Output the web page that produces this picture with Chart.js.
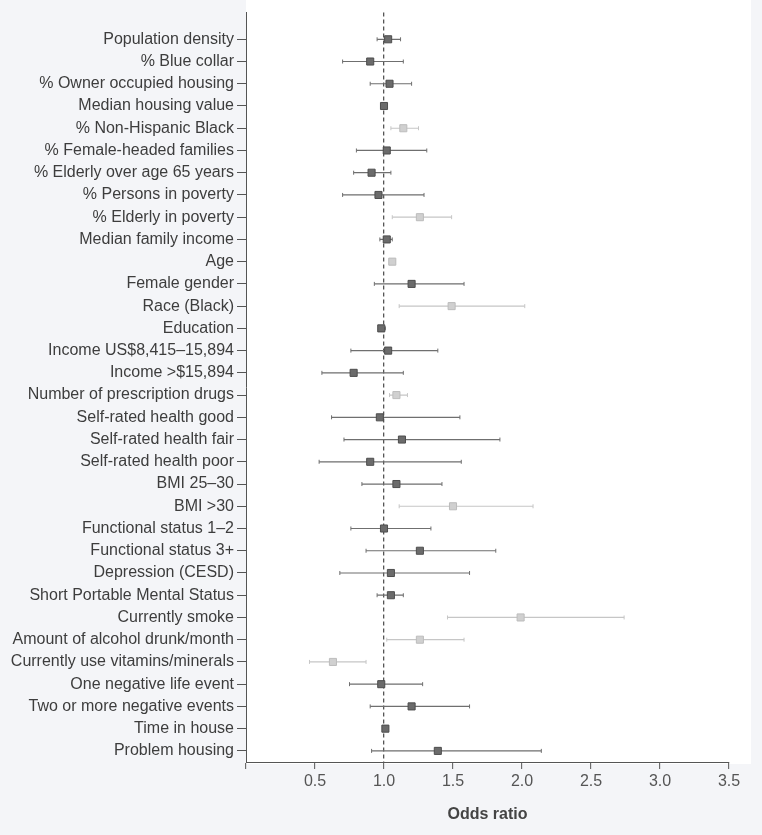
<!DOCTYPE html>
<html>
<head>
<meta charset="utf-8">
<script src="https://cdn.jsdelivr.net/npm/chart.js@4/dist/chart.umd.min.js"></script>
<style>
  html, body { margin: 0; padding: 0; background: #f4f5f8; }
  #wrap { width: 762px; height: 835px; }
</style>
</head>
<body>
<div id="wrap"><canvas id="c" width="762" height="835"></canvas></div>
<script>
const categories = [
  "Population density",
  "% Blue collar",
  "% Owner occupied housing",
  "Median housing value",
  "% Non-Hispanic Black",
  "% Female-headed families",
  "% Elderly over age 65 years",
  "% Persons in poverty",
  "% Elderly in poverty",
  "Median family income",
  "Age",
  "Female gender",
  "Race (Black)",
  "Education",
  "Income US$8,415\u201315,894",
  "Income >$15,894",
  "Number of prescription drugs",
  "Self-rated health good",
  "Self-rated health fair",
  "Self-rated health poor",
  "BMI 25\u201330",
  "BMI >30",
  "Functional status 1\u20132",
  "Functional status 3+",
  "Depression (CESD)",
  "Short Portable Mental Status",
  "Currently smoke",
  "Amount of alcohol drunk/month",
  "Currently use vitamins/minerals",
  "One negative life event",
  "Two or more negative events",
  "Time in house",
  "Problem housing"
];
const oddsRatio = [1.03, 0.90, 1.04, 1.00, 1.14, 1.02, 0.91, 0.96, 1.26, 1.02, 1.06, 1.20, 1.49, 0.98, 1.03, 0.78, 1.09,
  0.97, 1.13, 0.90, 1.09, 1.50, 1.00, 1.26, 1.05, 1.05, 1.99, 1.26, 0.63, 0.98, 1.20, 1.01, 1.39];
const ciLower = [0.95, 0.70, 0.90, 0.98, 1.05, 0.80, 0.78, 0.70, 1.06, 0.97, 1.04, 0.93, 1.11, 0.96, 0.76, 0.55, 1.04,
  0.62, 0.71, 0.53, 0.84, 1.11, 0.76, 0.87, 0.68, 0.95, 1.46, 1.02, 0.46, 0.75, 0.90, 1.00, 0.91];
const ciUpper = [1.12, 1.14, 1.20, 1.01, 1.25, 1.31, 1.05, 1.29, 1.49, 1.06, 1.08, 1.58, 2.02, 1.01, 1.39, 1.14, 1.17,
  1.55, 1.84, 1.56, 1.42, 2.08, 1.34, 1.81, 1.62, 1.14, 2.74, 1.58, 0.87, 1.28, 1.62, 1.02, 2.14];
// 1 = drawn in light grey in the original
const lightGrey = [0,0,0,0,1,0,0,0,1,0,1,0,1,0,0,0,1,0,0,0,0,1,0,0,0,0,1,1,1,0,0,0,0];
const xTickValues = [0, 0.5, 1.0, 1.5, 2.0, 2.5, 3.0, 3.5];
const xTitle = "Odds ratio";

const DARK_LINE = '#6f6f6f', DARK_FILL = '#6b6b6b', DARK_EDGE = '#4d4d4d';
const LIGHT_LINE = '#c6c6c6', LIGHT_FILL = '#d0d0d0', LIGHT_EDGE = '#bcbcbc';
const FONT = '"Liberation Sans", Arial, Helvetica, sans-serif';

function ciSegments(flag) {
  const out = [];
  categories.forEach((c, i) => {
    if (lightGrey[i] !== flag) return;
    out.push({x: ciLower[i], y: i}, {x: ciUpper[i], y: i}, {x: null, y: i});
  });
  return out;
}
function caps(flag) {
  const out = [];
  categories.forEach((c, i) => {
    if (lightGrey[i] !== flag) return;
    out.push({x: ciLower[i], y: i}, {x: ciUpper[i], y: i});
  });
  return out;
}
function pts(flag) {
  const out = [];
  categories.forEach((c, i) => {
    if (lightGrey[i] !== flag) return;
    out.push({x: oddsRatio[i], y: i});
  });
  return out;
}

const bgPlugin = {
  id: 'bg',
  beforeDraw(chart) {
    const {ctx, chartArea: a} = chart;
    ctx.save();
    ctx.fillStyle = '#f4f5f8';
    ctx.fillRect(0, 0, chart.width, chart.height);
    ctx.fillStyle = '#ffffff';
    ctx.fillRect(a.left, 0, a.right - a.left + 22, a.bottom + 2);
    ctx.restore();
  }
};

new Chart(document.getElementById('c'), {
  type: 'scatter',
  data: {
    datasets: [
      { type: 'scatter', data: pts(0), pointStyle: 'rect', pointRadius: 5, backgroundColor: DARK_FILL, borderColor: DARK_EDGE, borderWidth: 1, order: 0 },
      { type: 'scatter', data: pts(1), pointStyle: 'rect', pointRadius: 5, backgroundColor: LIGHT_FILL, borderColor: LIGHT_EDGE, borderWidth: 1, order: 0 },
      { type: 'scatter', data: caps(0), pointStyle: 'line', rotation: 90, pointRadius: 2, borderColor: DARK_LINE, borderWidth: 1, order: 1 },
      { type: 'scatter', data: caps(1), pointStyle: 'line', rotation: 90, pointRadius: 2, borderColor: LIGHT_LINE, borderWidth: 1, order: 1 },
      { type: 'line', data: ciSegments(0), showLine: true, spanGaps: false, pointRadius: 0, borderColor: DARK_LINE, borderWidth: 1.2, order: 2 },
      { type: 'line', data: ciSegments(1), showLine: true, spanGaps: false, pointRadius: 0, borderColor: LIGHT_LINE, borderWidth: 1.2, order: 2 }
    ]
  },
  options: {
    responsive: false,
    animation: false,
    layout: { padding: { left: 0, right: 33, top: 10, bottom: 0 } },
    plugins: { legend: { display: false }, tooltip: { enabled: false } },
    scales: {
      x: {
        type: 'linear',
        min: 0, max: 3.5,
        afterBuildTicks(s) { s.ticks = xTickValues.map(v => ({value: v})); },
        afterFit(s) { s.height = 73; },
        ticks: {
          callback: v => (v === 0 ? '' : v.toFixed(1)),
          color: '#555', font: { family: FONT, size: 16 }, padding: 3, maxRotation: 0
        },
        grid: {
          drawOnChartArea: true,
          color: c => (c.tick && c.tick.value === 1 ? '#555' : 'rgba(0,0,0,0)'),
          lineWidth: 1.3,
          tickColor: '#555', tickLength: 7, tickWidth: 1
        },
        border: { display: true, color: '#555', width: 1, dash: [4, 3] },
        title: { display: true, text: xTitle, color: '#444', font: { family: FONT, size: 16, weight: 'bold' }, padding: { top: 0, bottom: 11 } }
      },
      y: {
        type: 'linear',
        reverse: true,
        min: -1.2, max: 32.5,
        afterBuildTicks(s) { s.ticks = categories.map((c, i) => ({value: i})); },
        afterFit(s) { s.width = 246; },
        ticks: {
          callback: v => categories[v],
          color: '#3d3d3d', font: { family: FONT, size: 16 }, padding: 3, autoSkip: false
        },
        grid: { drawOnChartArea: false, tickColor: '#555', tickLength: 9, tickWidth: 1 },
        border: { display: true, color: '#555', width: 1 }
      }
    }
  },
  plugins: [bgPlugin]
});
</script>
</body>
</html>
